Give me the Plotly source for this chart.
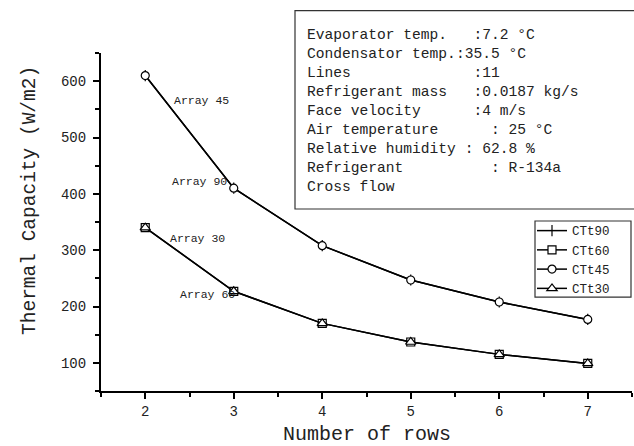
import plotly.graph_objects as go

# ---- data ----
rows = [2, 3, 4, 5, 6, 7]
ctt90 = [610, 410, 308, 247, 208, 177]
ctt60 = [340, 227, 170, 137, 115, 99]
ctt45 = [610, 410, 308, 247, 208, 177]
ctt30 = [340, 227, 170, 137, 115, 99]
series_names = ["CTt90", "CTt60", "CTt45", "CTt30"]

label_texts = ["Array 45", "Array 90", "Array 30", "Array 60"]
label_x = [2.64, 2.615, 2.587, 2.705]
label_y = [566, 422, 321, 221]

info_lines = [
    "Evaporator temp.\u00a0\u00a0\u00a0:7.2 °C",
    "Condensator temp.:35.5 °C",
    "Lines" + "\u00a0" * 14 + ":11",
    "Refrigerant mass\u00a0\u00a0\u00a0:0.0187 kg/s",
    "Face velocity" + "\u00a0" * 6 + ":4 m/s",
    "Air temperature" + "\u00a0" * 6 + ": 25 °C",
    "Relative humidity\u00a0: 62.8 %",
    "Refrigerant" + "\u00a0" * 10 + ": R-134a",
    "Cross flow",
]

FONT = "Liberation Mono, Courier New, monospace"

# pixel geometry helpers (plot area: x 101..632, y 53..390.7)
def px_x(p):
    return (p - 101) / 531

def px_y(p):
    return (390.7 - p) / 337.4

fig = go.Figure()
styles = [
    dict(symbol="line-ns", size=8, color="black", line=dict(color="black", width=1.2)),
    dict(symbol="square", size=8, color="white", line=dict(color="black", width=1.2)),
    dict(symbol="circle", size=8, color="white", line=dict(color="black", width=1.2)),
    dict(symbol="triangle-up", size=9, color="white", line=dict(color="black", width=1.2)),
]
for name, ys, st in zip(series_names, [ctt90, ctt60, ctt45, ctt30], styles):
    fig.add_trace(go.Scatter(
        x=rows, y=ys, name=name, mode="lines+markers",
        line=dict(color="black", width=1.5), marker=st,
    ))

for t, lx, ly in zip(label_texts, label_x, label_y):
    fig.add_annotation(x=lx, y=ly, xref="x", yref="y", text=t, showarrow=False,
                       font=dict(family=FONT, size=11.5, color="#222"))

# info box
fig.add_shape(type="rect", xref="paper", yref="paper",
              x0=px_x(295), x1=1.2, y0=px_y(209), y1=px_y(11),
              line=dict(color="#333", width=1.2), fillcolor="white", layer="above")
fig.add_annotation(xref="paper", yref="paper", x=px_x(305), y=px_y(111.5),
                   xanchor="left", yanchor="middle", align="left", showarrow=False,
                   text="<br>".join(info_lines),
                   font=dict(family=FONT, size=14.6, color="#222"))

# legend frame
fig.add_shape(type="rect", xref="paper", yref="paper",
              x0=px_x(535), x1=px_x(631), y0=px_y(297), y1=px_y(221),
              line=dict(color="#333", width=1.2), fillcolor="white", layer="above")

# axis titles
fig.add_annotation(xref="paper", yref="paper", x=0.5, y=px_y(434),
                   xanchor="center", yanchor="middle", showarrow=False,
                   text="Number of rows", font=dict(family=FONT, size=20, color="#222"))
fig.add_annotation(xref="paper", yref="paper", x=px_x(30), y=px_y(201),
                   xanchor="center", yanchor="middle", showarrow=False, textangle=-90,
                   text="Thermal Capacity (W/m2)", font=dict(family=FONT, size=19.5, color="#222"))

axis_common = dict(
    showgrid=False, zeroline=False, showline=True, linecolor="black", linewidth=2,
    mirror=False,
    ticks="outside", ticklen=6, tickwidth=1.8, tickcolor="black",
    tickfont=dict(family=FONT, size=14, color="#222"),
)
fig.update_xaxes(range=[1.5, 7.5], tickmode="linear", tick0=2, dtick=1,
                 minor=dict(ticks="outside", ticklen=4, tickwidth=1.6, tickcolor="black",
                            tick0=1.5, dtick=1, showgrid=False),
                 **axis_common)
fig.update_yaxes(range=[50, 650], tickmode="linear", tick0=100, dtick=100,
                 ticklabelstandoff=4,
                 minor=dict(ticks="outside", ticklen=4, tickwidth=1.6, tickcolor="black",
                            tick0=50, dtick=100, showgrid=False),
                 **axis_common)

fig.update_layout(
    template="none",
    width=634, height=446,
    margin=dict(l=101, r=2, t=53, b=55),
    paper_bgcolor="white", plot_bgcolor="white",
    showlegend=True,
    legend=dict(x=px_x(532), y=px_y(216), xanchor="left", yanchor="top",
                borderwidth=0, bgcolor="rgba(0,0,0,0)",
                font=dict(family=FONT, size=12.5, color="#222"),
                tracegroupgap=0, itemwidth=30),
)

fig.write_html("out.html")
